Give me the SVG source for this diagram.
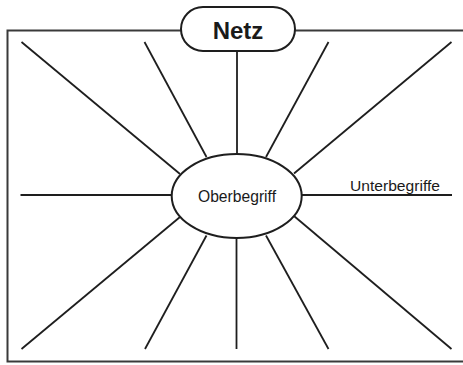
<svg xmlns="http://www.w3.org/2000/svg" width="463" height="365" viewBox="0 0 463 365">
<style>
.frame{fill:none;stroke:#3a3a3a;stroke-width:2}
.spoke{stroke:#1e1e1e;stroke-width:1.8;stroke-linecap:butt}
.shape{fill:#ffffff;stroke:#1e1e1e;stroke-width:2}
.t{font-family:"Liberation Sans",Arial,sans-serif;fill:#1a1a1a}
</style>
<rect width="463" height="365" fill="#ffffff"/>
<rect class="frame" x="7.5" y="30.5" width="470" height="331"/>
<g id="connectors">
<line class="spoke" x1="237" y1="50" x2="237" y2="154"/>
<line class="spoke" x1="21.5" y1="42" x2="180" y2="174"/>
<line class="spoke" x1="144.5" y1="42" x2="206.5" y2="157"/>
<line class="spoke" x1="328.5" y1="42" x2="266" y2="157"/>
<line class="spoke" x1="451.5" y1="42" x2="294" y2="173.5"/>
<line class="spoke" x1="20.5" y1="195" x2="172" y2="195"/>
<line class="spoke" x1="302" y1="195" x2="452" y2="195"/>
<line class="spoke" x1="21.5" y1="349" x2="180" y2="217"/>
<line class="spoke" x1="145" y1="349" x2="206.5" y2="235.5"/>
<line class="spoke" x1="236.5" y1="349" x2="236.5" y2="238"/>
<line class="spoke" x1="328.5" y1="349" x2="266" y2="235.5"/>
<line class="spoke" x1="451.5" y1="349" x2="294" y2="216"/>
</g>
<g id="netz">
<rect class="shape" x="181" y="7" width="114" height="44" rx="22" ry="22"/>
<text class="t" x="238" y="39" text-anchor="middle" font-size="24" font-weight="bold">Netz</text>
</g>
<g id="oberbegriff">
<ellipse class="shape" cx="236.7" cy="196" rx="65" ry="42"/>
<text class="t" x="198" y="201.5" font-size="16.5" textLength="78" lengthAdjust="spacingAndGlyphs">Oberbegriff</text>
</g>
<g id="unterbegriffe">
<text class="t" x="350" y="191" font-size="15.5" textLength="90" lengthAdjust="spacingAndGlyphs">Unterbegriffe</text>
</g>
</svg>
